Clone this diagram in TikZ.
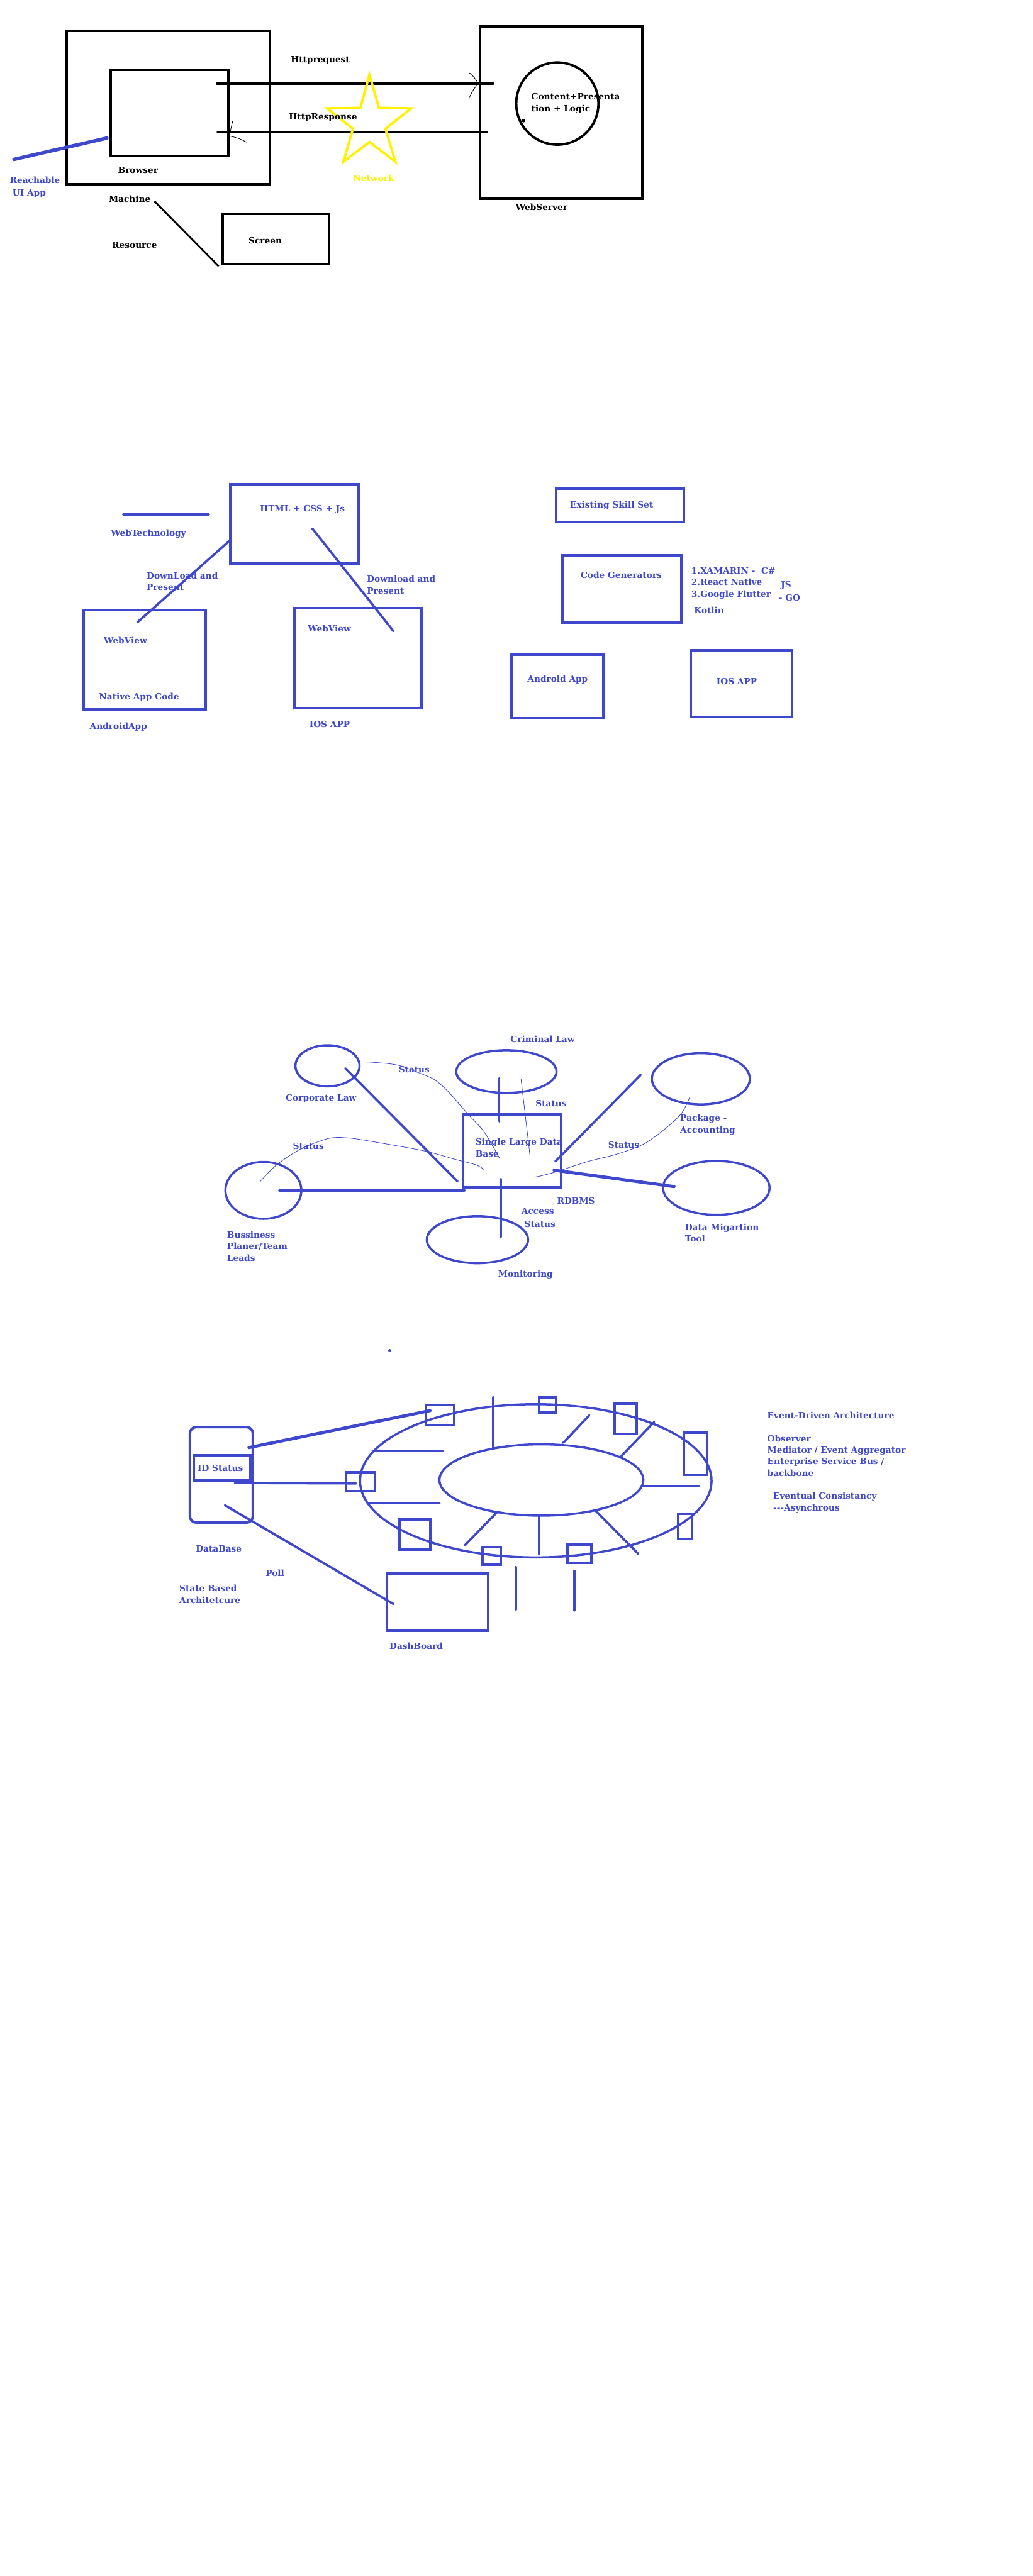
\documentclass[tikz,border=0pt]{standalone}
\usepackage{fontspec}
\setmainfont{DejaVu Serif}
\usetikzlibrary{fit,shapes.geometric}

\definecolor{ink}{RGB}{63,72,204}
\definecolor{starY}{RGB}{255,242,0}
\newcommand{\pxu}{0.0315cm}

\tikzset{
  lbl/.style={font=\bfseries\fontsize{4.7}{6.3}\selectfont, text=ink, anchor=north west, inner sep=0pt, align=left},
  blbl/.style={lbl, text=black},
  kbox/.style={draw=black, line width=1.4pt, inner sep=0pt},
  ibox/.style={draw=ink, line width=1.4pt, inner sep=0pt},
  blob/.style={ellipse, draw=ink, line width=1.2pt, inner sep=0pt},
  wire/.style={ink, line width=1.25pt, line cap=round},
  hair/.style={line width=0.3pt},
}

\begin{document}
\begin{tikzpicture}[x=\pxu, y=-\pxu]
  \useasboundingbox (0,0) rectangle (628.05,1567.4);

  \node[kbox, fit={(40.4,18.7) (164,112)}] (machine) {};
  \node[kbox, fit={(67.5,42.3) (139,95)}] (browser) {};
  \node[kbox, fit={(292,16) (390.6,121)}] (server) {};
  \node[kbox, fit={(135.6,130) (200,160.6)}] (screen) {};
  \node[circle, draw=black, line width=1.3pt, inner sep=0pt, minimum size={50*\pxu}] (logic) at (339,63) {};
  \fill (318.4,73.5) circle [radius=1];
  \draw[line width=1.3pt, line cap=round] (132,50.8) -- (300,50.8);
  \draw[line width=1.3pt, line cap=round] (132.5,80.4) -- (296,80.4);
  \draw[hair] (285.6,44.4) .. controls (288.5,47) .. (290.9,50.8) .. controls (287.5,55) .. (285.1,60.3);
  \draw[hair] (141.5,73.8) -- (140.2,79.3) -- (139.4,82.7) .. controls (145,84) .. (150.4,86.7);
  \draw[ink, line width=1.9pt, line cap=round] (8.5,97) -- (65,84);
  \draw[line width=1pt] (94,122.5) -- (133,162);
  \draw[starY, line width=1.3pt] (224.7,45.5) -- (230.5,65.6) -- (250.2,65.9) -- (234.4,78.3) -- (240.5,98.4)
    -- (224.7,86.4) -- (208.9,98.4) -- (214.7,78.3) -- (198.9,65.9) -- (219.2,65.6) -- cycle;

  \node[blbl] (req) at (176.7,33.9) {Httprequest};
  \node[blbl] (resp) at (175.6,69) {HttpResponse};
  \node[blbl] (browsertxt) at (71.6,101.5) {Browser};
  \node[lbl] (reach) at (5.8,107.5) {Reachable};
  \node[lbl] (uiapp) at (7.4,115) {UI App};
  \node[blbl] (machinetxt) at (66,119) {Machine};
  \node[blbl] (resource) at (68,147) {Resource};
  \node[blbl] (screentxt) at (151,144) {Screen};
  \node[lbl, text=starY] (net) at (214.6,106) {Network};
  \node[blbl] (servertxt) at (313.5,123.7) {WebServer};
  \node[blbl] (logictxt) at (323,56.7) {Content+Presenta\\tion + Logic};

  \node[ibox, fit={(140,294.7) (218,343)}] (html) {};
  \node[ibox, fit={(50.9,371.3) (125.3,431.6)}] (andr) {};
  \node[ibox, fit={(179,370) (256.5,431)}] (ios) {};
  \node[ibox, fit={(338.4,297.5) (416,317.5)}] (skill) {};
  \node[ibox, fit={(342.3,338) (414.5,378.9)}] (codegen) {};
  \node[ibox, fit={(311,398.2) (367,437)}] (andapp) {};
  \node[ibox, fit={(420,395.8) (481.9,436.4)}] (iosapp) {};
  \draw[wire] (75,313) -- (127,313);
  \draw[wire] (140,328.7) -- (83.5,378.7);
  \draw[wire] (190,321.6) -- (239.3,384);

  \node[lbl] (webtech) at (67.3,321.9) {WebTechnology};
  \node[lbl] (htmltxt) at (158,307) {HTML + CSS + Js};
  \node[lbl] (dl1) at (89,348) {DownLoad and\\Present};
  \node[lbl] (dl2) at (223,350.1) {Download and\\Present};
  \node[lbl] (wv1) at (63,387.3) {WebView};
  \node[lbl] (native) at (60,421.6) {Native App Code};
  \node[lbl] (andrtxt) at (54.4,439.6) {AndroidApp};
  \node[lbl] (wv2) at (187,380) {WebView};
  \node[lbl] (iostxt) at (188,438.5) {IOS APP};
  \node[lbl] (skilltxt) at (346.5,304.7) {Existing Skill Set};
  \node[lbl] (codegentxt) at (353,347.8) {Code Generators};
  \node[lbl] (tools) at (420.3,345) {1.XAMARIN -\ \ C\#\\2.React Native\\3.Google Flutter};
  \node[lbl] (js) at (474.8,353.4) {JS};
  \node[lbl] (go) at (473.5,361.5) {- GO};
  \node[lbl] (kotlin) at (422,369.2) {Kotlin};
  \node[lbl] (andapptxt) at (320.6,410.7) {Android App};
  \node[lbl] (iosapptxt) at (435.6,412.4) {IOS APP};

  \node[blob, minimum width={39*\pxu}, minimum height={25*\pxu}] (corp) at (199.2,648.5) {};
  \node[blob, minimum width={61*\pxu}, minimum height={26*\pxu}] (crim) at (308,652) {};
  \node[blob, minimum width={59.6*\pxu}, minimum height={31.2*\pxu}] (pkg) at (426.3,656.4) {};
  \node[blob, minimum width={46.2*\pxu}, minimum height={34.6*\pxu}] (biz) at (160.2,724.3) {};
  \node[blob, minimum width={61.6*\pxu}, minimum height={28.6*\pxu}] (mon) at (290.4,754.3) {};
  \node[blob, minimum width={64.8*\pxu}, minimum height={32.8*\pxu}] (mig) at (435.7,722.8) {};
  \node[ibox, fit={(281.7,678) (341.4,722.5)}] (db) {};
  \draw[wire] (210,650) -- (278.3,718.8);
  \draw[wire] (303.7,656) -- (303.7,682.3);
  \draw[wire] (389.7,654) -- (337.8,706.7);
  \draw[wire, line width=1.7pt] (337,712) -- (410,722);
  \draw[wire] (304.5,717.5) -- (304.5,752.5);
  \draw[wire, line width=1.5pt] (170,724.3) -- (282.4,724.3);
  \draw[ink, hair] plot[smooth] coordinates {(211.2,646.2) (224.1,646.2) (241.1,647.9) (253.3,652.2) (264.2,656.9)
    (272.7,664.3) (284.8,678.1) (294.5,688.7) (303.7,704.5)};
  \draw[ink, hair] (316.9,656.4) -- (322.4,703.3);
  \draw[ink, hair] plot[smooth] coordinates {(158,719.2) (168.2,708.8) (182.8,699.2) (199.8,692.7) (212,692.4)
    (228.9,695) (258.1,700.3) (277.5,705.6) (289.7,708.8) (294.5,711.7)};
  \draw[ink, hair] plot[smooth] coordinates {(419.6,667.5) (414.8,677) (406.2,685.5) (391.7,696) (374.7,702.4)
    (357.7,706.7) (338.2,713) (328.5,715.6) (324.9,716.2)};

  \node[lbl] (crimtxt) at (310.3,629.9) {Criminal Law};
  \node[lbl] (corptxt) at (173.6,665.8) {Corporate Law};
  \node[lbl] (st1) at (242.3,648.4) {Status};
  \node[lbl] (st2) at (325.6,669.2) {Status};
  \node[lbl] (st3) at (178,695.1) {Status};
  \node[lbl] (st4) at (369.8,694.6) {Status};
  \node[lbl] (access) at (317,734.6) {Access};
  \node[lbl] (st5) at (318.8,742.5) {Status};
  \node[lbl] (dbtxt) at (289,692.6) {Single Large Data\\Base};
  \node[lbl] (rdbms) at (338.7,728.5) {RDBMS};
  \node[lbl] (pkgtxt) at (413.5,678) {Package -\\Accounting};
  \node[lbl] (biztxt) at (137.9,749) {Bussiness\\Planer/Team\\Leads};
  \node[lbl] (montxt) at (302.8,772.7) {Monitoring};
  \node[lbl] (migtxt) at (416.4,744.5) {Data Migartion\\Tool};

  \fill[ink] (237,821.7) circle [radius=0.9];

  \node[blob, minimum width={213.8*\pxu}, minimum height={93.2*\pxu}] (ring) at (325.9,901) {};
  \node[blob, minimum width={124*\pxu}, minimum height={43.4*\pxu}] (hub) at (329.3,900.5) {};
  \node[ibox, rounded corners=1.2mm, fit={(115.5,868.3) (153.8,926.4)}] (store) {};
  \node[ibox, fit={(118,885.5) (152.3,900.6)}] (idbox) {};
  \node[ibox, fit={(235.5,957.6) (297,992.4)}] (dash) {};
  \node[ibox, fit={(259.2,855) (276.4,867.2)}] (t1) {};
  \node[ibox, fit={(327.8,850.2) (338.4,859.5)}] (t2) {};
  \node[ibox, fit={(373.8,854.2) (387.2,872.6)}] (t3) {};
  \node[ibox, fit={(416,871.5) (430,897.2)}] (t4) {};
  \node[ibox, fit={(412.5,921) (421,936.5)}] (t5) {};
  \node[ibox, fit={(345,939.7) (359.6,950.8)}] (t6) {};
  \node[ibox, fit={(293.5,941.2) (304.7,952.1)}] (t7) {};
  \node[ibox, fit={(243,924.6) (261.9,942.7)}] (t8) {};
  \node[ibox, fit={(210.6,896) (227.9,907.2)}] (t9) {};
  \draw[wire, line width=1.7pt] (151.4,880.8) -- (261.6,858.3);
  \draw[wire] (142.9,902.3) -- (216.6,902.6);
  \draw[wire] (136.8,915.9) -- (239.4,976);
  \draw[wire] (300.1,850.2) -- (300.1,881);
  \draw[wire] (358.4,861.2) -- (342.6,877.9);
  \draw[wire] (397.9,865.2) -- (377.5,886.4);
  \draw[wire] (390.6,904.4) -- (425.2,904.4);
  \draw[wire] (362.4,919.3) -- (388.2,945.4);
  \draw[wire] (328,922.1) -- (328,945.7);
  \draw[wire] (302.3,920.1) -- (282.8,940.2);
  \draw[wire] (224.2,914.8) -- (267.3,914.8);
  \draw[wire] (226.7,882.7) -- (269.2,882.7);
  \draw[wire] (313.8,953.5) -- (313.8,979.3);
  \draw[wire] (349.3,955.8) -- (349.3,979.9);

  \node[lbl] (idtxt) at (120,891) {ID Status};
  \node[lbl] (storetxt) at (118.9,940.2) {DataBase};
  \node[lbl] (poll) at (161.4,955) {Poll};
  \node[lbl] (state) at (108.9,964.3) {State Based\\Architetcure};
  \node[lbl] (dashtxt) at (236.7,999.4) {DashBoard};
  \node[lbl] (eda) at (466.5,859) {Event-Driven Architecture};
  \node[lbl] (patterns) at (466.5,872.9) {Observer\\Mediator / Event Aggregator\\Enterprise Service Bus /\\backbone};
  \node[lbl] (eventual) at (470.1,908) {Eventual Consistancy\\-{}-{}-Asynchrous};
\end{tikzpicture}
\end{document}
